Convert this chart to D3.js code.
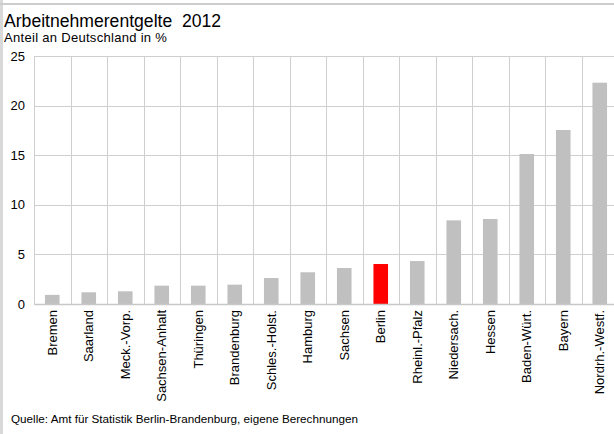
<!DOCTYPE html>
<html>
<head>
<meta charset="utf-8">
<script src="https://cdn.jsdelivr.net/npm/d3@7"></script>
<style>
  html, body { margin: 0; padding: 0; background: #fff; }
  svg { display: block; font-family: "Liberation Sans", Arial, sans-serif; }
</style>
</head>
<body>
<svg id="chart" width="614" height="434"></svg>
<script>
const categories = ["Bremen", "Saarland", "Meck.-Vorp.", "Sachsen-Anhalt", "Thüringen", "Brandenburg", "Schles.-Holst.", "Hamburg", "Sachsen", "Berlin", "Rheinl.-Pfalz", "Niedersach.", "Hessen", "Baden-Würt.", "Bayern", "Nordrh.-Westf."];
const values = [0.92, 1.18, 1.28, 1.85, 1.85, 1.95, 2.62, 3.2, 3.63, 4.03, 4.33, 8.43, 8.57, 15.12, 17.54, 22.31];
const highlight = ["Berlin"];
const yTicks = [0, 5, 10, 15, 20, 25];
const title = "Arbeitnehmerentgelte\u00a0\u00a02012";
const subtitle = "Anteil an Deutschland in %";
const source = "Quelle: Amt für Statistik Berlin-Brandenburg, eigene Berechnungen";

const svg = d3.select("#chart");
const W = 614, H = 434;
const m = { left: 34, top: 56, right: -4 };
const plotRight = W - m.right;
const plotBottom = 304;

// frame
svg.append("rect").attr("x", 0).attr("y", 0).attr("width", 3).attr("height", H).attr("fill", "#d9d9d9");
svg.append("rect").attr("x", 0).attr("y", 3).attr("width", W).attr("height", 2).attr("fill", "#cccccc");

const x = d3.scaleBand().domain(categories).range([m.left, plotRight]).paddingInner(0).paddingOuter(0);
const y = d3.scaleLinear().domain([0, 25]).range([plotBottom, m.top]);

const grid = "#cfcfcf";
svg.append("g").selectAll("line").data(yTicks).join("line")
  .attr("x1", m.left).attr("x2", plotRight)
  .attr("y1", d => Math.round(y(d)) + 0.5).attr("y2", d => Math.round(y(d)) + 0.5)
  .attr("stroke", grid).attr("stroke-width", 1);
svg.append("g").selectAll("line").data(categories).join("line")
  .attr("x1", d => Math.round(x(d)) + 0.5).attr("x2", d => Math.round(x(d)) + 0.5)
  .attr("y1", m.top).attr("y2", plotBottom)
  .attr("stroke", grid).attr("stroke-width", 1);

const bw = 14.6;
svg.append("g").selectAll("rect").data(categories).join("rect")
  .attr("x", d => x(d) + x.bandwidth() / 2 - bw / 2)
  .attr("width", bw)
  .attr("y", (d, i) => y(values[i]))
  .attr("height", (d, i) => y(0) - y(values[i]))
  .attr("fill", d => highlight.includes(d) ? "#ff0000" : "#c0c0c0");

const yAxis = d3.axisLeft(y).tickValues(yTicks).tickSize(0).tickPadding(8);
const gy = svg.append("g").attr("transform", `translate(${m.left - 1},0)`).call(yAxis);
gy.select(".domain").remove();
gy.selectAll("text").attr("font-size", 13).attr("fill", "#000").attr("font-family", "Liberation Sans, Arial, sans-serif");

const xAxis = d3.axisBottom(x).tickSize(0).tickPadding(0);
const gx = svg.append("g").attr("transform", `translate(0,${plotBottom})`).call(xAxis);
gx.select(".domain").attr("stroke", "#c8c8c8").attr("stroke-width", 1.5);
gx.selectAll("text")
  .attr("font-size", 13).attr("fill", "#000").attr("font-family", "Liberation Sans, Arial, sans-serif")
  .attr("transform", "rotate(-90)")
  .attr("text-anchor", "end")
  .attr("x", -6).attr("y", 0).attr("dy", "0.35em");

svg.append("text").attr("x", 4).attr("y", 26.5).attr("font-size", 17.6).attr("fill", "#000").text(title);
svg.append("text").attr("x", 4).attr("y", 42).attr("font-size", 13).attr("letter-spacing", 0.3).attr("fill", "#000").text(subtitle);
svg.append("text").attr("x", 11).attr("y", 423).attr("font-size", 11.7).attr("fill", "#000").text(source);
</script>
</body>
</html>
